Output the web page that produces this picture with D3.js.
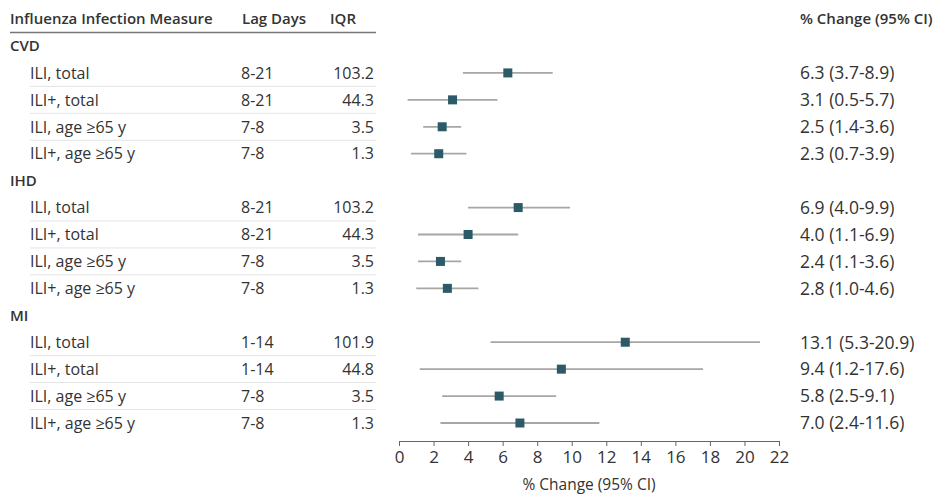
<!DOCTYPE html>
<html>
<head>
<meta charset="utf-8">
<script src="https://cdn.jsdelivr.net/npm/d3@7"></script>
<style>
  body { margin: 0; background: #fff; }
  svg text { font-family: "Open Sans", "DejaVu Sans", sans-serif; fill: #333; }
</style>
</head>
<body>
<div id="chart"></div>
<script>
// data
var groups = ["CVD", "IHD", "MI"];
var measures = ["ILI, total", "ILI+, total", "ILI, age \u226565 y", "ILI+, age \u226565 y"];
var lagDays = [
  ["8-21", "8-21", "7-8", "7-8"],
  ["8-21", "8-21", "7-8", "7-8"],
  ["1-14", "1-14", "7-8", "7-8"]
];
var iqr = [
  ["103.2", "44.3", "3.5", "1.3"],
  ["103.2", "44.3", "3.5", "1.3"],
  ["101.9", "44.8", "3.5", "1.3"]
];
var estimate = [
  [6.3, 3.1, 2.5, 2.3],
  [6.9, 4.0, 2.4, 2.8],
  [13.1, 9.4, 5.8, 7.0]
];
var lower = [
  [3.7, 0.5, 1.4, 0.7],
  [4.0, 1.1, 1.1, 1.0],
  [5.3, 1.2, 2.5, 2.4]
];
var upper = [
  [8.9, 5.7, 3.6, 3.9],
  [9.9, 6.9, 3.6, 4.6],
  [20.9, 17.6, 9.1, 11.6]
];
var xTicks = [0, 2, 4, 6, 8, 10, 12, 14, 16, 18, 20, 22];

var width = 937, height = 497;
var svg = d3.select("#chart").append("svg")
  .attr("width", width).attr("height", height);

// flatten into rows: group header then its measures
var rows = [];
groups.forEach(function(g, gi) {
  rows.push({ type: "group", label: g });
  measures.forEach(function(m, mi) {
    rows.push({
      type: "item", label: m, gi: gi, mi: mi,
      lag: lagDays[gi][mi], iqr: iqr[gi][mi],
      est: estimate[gi][mi], lo: lower[gi][mi], hi: upper[gi][mi]
    });
  });
});

var y = d3.scalePoint()
  .domain(d3.range(rows.length))
  .range([46, 423]);

var x = d3.scaleLinear()
  .domain([0, 22])
  .range([399, 779]);

var axisY = 441;
var bodySize = 16;

// column headers
var head = svg.append("g").attr("font-size", 15).attr("font-weight", 600);
head.append("text").attr("x", 10).attr("y", 24).text("Influenza Infection Measure");
head.append("text").attr("x", 242).attr("y", 24).text("Lag Days");
head.append("text").attr("x", 330).attr("y", 24).text("IQR");
head.append("text").attr("x", 800).attr("y", 24).text("% Change (95% CI)");

svg.append("line")
  .attr("x1", 10).attr("x2", 376)
  .attr("y1", 32.5).attr("y2", 32.5)
  .attr("stroke", "#777").attr("stroke-width", 1.6);

// row separators inside each group
var sep = rows.map(function(r, i) { return i; })
  .filter(function(i) { return rows[i].type === "item" && rows[i].mi < 3; });
svg.append("g").selectAll("line")
  .data(sep).enter().append("line")
  .attr("x1", 30).attr("x2", 376)
  .attr("y1", function(i) { return (y(i) + y(i + 1)) / 2; })
  .attr("y2", function(i) { return (y(i) + y(i + 1)) / 2; })
  .attr("stroke", "#e4e4e4").attr("stroke-width", 1);

// table text
var rowG = svg.append("g").selectAll("g")
  .data(rows).enter().append("g")
  .attr("transform", function(d, i) { return "translate(0," + y(i) + ")"; });

rowG.filter(function(d) { return d.type === "group"; })
  .append("text")
  .attr("x", 10).attr("dy", "0.36em")
  .attr("font-size", 15).attr("font-weight", 600)
  .text(function(d) { return d.label; });

var items = rowG.filter(function(d) { return d.type === "item"; });
items.append("text")
  .attr("x", 30).attr("dy", "0.36em").attr("font-size", bodySize)
  .text(function(d) { return d.label; });
items.append("text")
  .attr("x", 241).attr("dy", "0.36em").attr("font-size", bodySize)
  .text(function(d) { return d.lag; });
items.append("text")
  .attr("x", 374).attr("dy", "0.36em").attr("font-size", bodySize)
  .attr("text-anchor", "end")
  .text(function(d) { return d.iqr; });
items.append("text")
  .attr("x", 800).attr("dy", "0.36em").attr("font-size", 17.5)
  .text(function(d) { return d.est.toFixed(1) + " (" + d.lo.toFixed(1) + "-" + d.hi.toFixed(1) + ")"; });

// confidence intervals and estimates
items.append("line")
  .attr("x1", function(d) { return x(d.lo); })
  .attr("x2", function(d) { return x(d.hi); })
  .attr("stroke", "#a6a6a6").attr("stroke-width", 1.8);

var sq = 9;
items.append("rect")
  .attr("x", function(d) { return x(d.est) - sq / 2; })
  .attr("y", -sq / 2)
  .attr("width", sq).attr("height", sq)
  .attr("fill", "#2c5a68");

// x axis
var axis = svg.append("g")
  .attr("transform", "translate(0," + axisY + ")")
  .call(d3.axisBottom(x).tickValues(xTicks).tickSize(5).tickSizeOuter(0).tickPadding(5));
axis.select(".domain").attr("stroke", "#666");
axis.selectAll(".tick line").attr("stroke", "#666");
axis.selectAll(".tick text")
  .attr("font-size", 17).attr("fill", "#333")
  .attr("font-family", "\"Open Sans\", sans-serif");

svg.append("text")
  .attr("x", (x(0) + x(22)) / 2).attr("y", 490)
  .attr("text-anchor", "middle").attr("font-size", 15.5)
  .text("% Change (95% CI)");
</script>
</body>
</html>
